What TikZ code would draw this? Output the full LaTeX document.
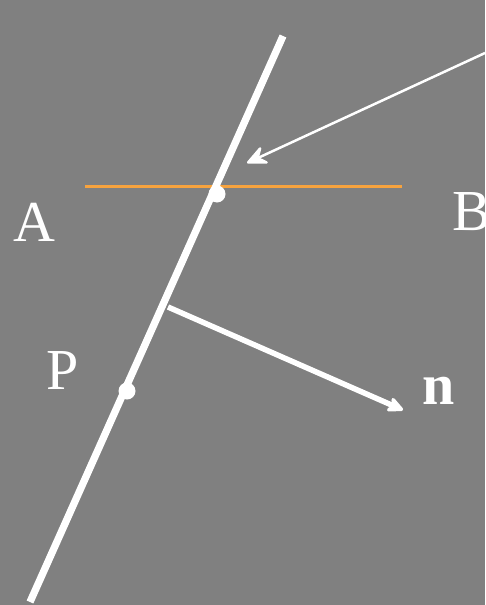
\documentclass[tikz,border=0pt]{standalone}
\usepackage{fontspec}
\setmainfont{Liberation Serif}
\usetikzlibrary{arrows.meta}
\definecolor{bggray}{RGB}{128,128,128}
\definecolor{orangeline}{RGB}{247,163,62}
\tikzset{
  lbl/.style={text=white,font=\fontsize{58}{60}\selectfont,anchor=base west,inner sep=0pt},
  dotnode/.style={circle,fill=white,minimum size=17pt,inner sep=0pt},
  mainline/.style={white,line width=7.3pt},
  normalarrow/.style={white,line width=5.5pt,-{Stealth[length=20pt,width=19pt,inset=6pt,round]}},
  pointer/.style={white,line width=2.5pt,-{Stealth[length=24pt,width=22pt,inset=9pt,round]}},
  abline/.style={orangeline,line width=2.5pt}
}
\begin{document}
\begin{tikzpicture}[x=1pt,y=-1pt]
\fill[bggray] (0,0) rectangle (485,605);
\useasboundingbox (0,0) rectangle (485,605);
\coordinate (top) at (283,36);
\coordinate (bot) at (30,602);
\coordinate (oa) at (85,186.5);
\coordinate (ob) at (402,186.5);
\coordinate (ps) at (485,53);
\coordinate (pe) at (247,163);
\coordinate (ns) at (168,307);
\coordinate (ne) at (403,410);
\draw[abline] (oa) -- (ob);
\draw[mainline] (bot) -- (top);
\node[dotnode] (x) at (217,194) {};
\node[dotnode] (p) at (127,391) {};
\draw[pointer] (ps) -- (pe);
\draw[normalarrow] (ns) -- (ne);
\node[lbl] (la) at (13,241) {A};
\node[lbl] (lb) at (452,230) {B};
\node[lbl] (lp) at (46,389) {P};
\node[lbl,font=\fontsize{58}{60}\selectfont\bfseries] (ln) at (422,404) {n};
\end{tikzpicture}
\end{document}
